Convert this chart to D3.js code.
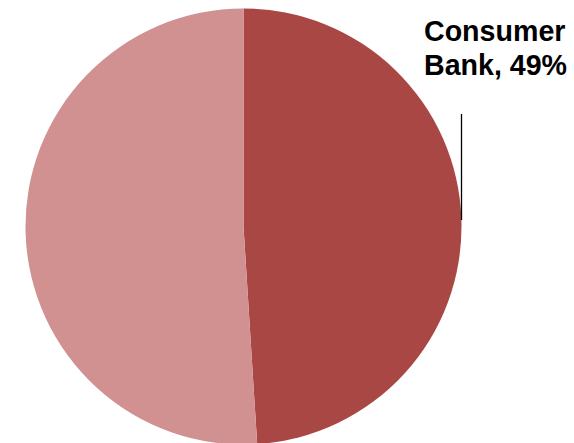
<!DOCTYPE html>
<html lang="en">
<head>
    <meta charset="UTF-8">
    <title>Consumer Bank share</title>
    <script src="https://d3js.org/d3.v7.min.js"></script>
    <style>
        body { margin: 0; background: #fff; }
        svg { display: block; }
    </style>
</head>
<body>
<svg width="574" height="443"></svg>
<script>
    // slices, clockwise from 12 o'clock
    const segments = ["Consumer Bank", "Other"];
    const shares = [49, 51];
    const sliceColors = ["#A84744", "#D09190"];
    const labelLines = ["Consumer", "Bank, 49%"];

    const svg = d3.select("svg");
    const cx = 243.5, cy = 226.5, r = 218;

    const pie = d3.pie().sort(null).value(d => d.v);
    const arcs = pie(segments.map((s, i) => ({ name: s, v: shares[i] })));
    const arc = d3.arc().innerRadius(0).outerRadius(r);

    const g = svg.append("g").attr("transform", `translate(${cx},${cy})`);
    g.selectAll("path")
        .data(arcs)
        .enter().append("path")
        .attr("d", arc)
        .attr("fill", (d, i) => sliceColors[i]);

    // leader line for the Consumer Bank label
    svg.append("line")
        .attr("x1", 461.5).attr("x2", 461.5)
        .attr("y1", 114).attr("y2", 220)
        .attr("stroke", "#000")
        .attr("stroke-width", 1.3);

    const label = svg.append("text")
        .attr("x", 424)
        .attr("y", 41)
        .attr("font-family", "Liberation Sans, Arial, sans-serif")
        .attr("font-weight", "bold")
        .attr("font-size", 28.6)
        .attr("fill", "#000");
    label.selectAll("tspan")
        .data(labelLines)
        .enter().append("tspan")
        .attr("x", 424)
        .attr("dy", (d, i) => i === 0 ? 0 : 34)
        .text(d => d);
</script>
</body>
</html>
